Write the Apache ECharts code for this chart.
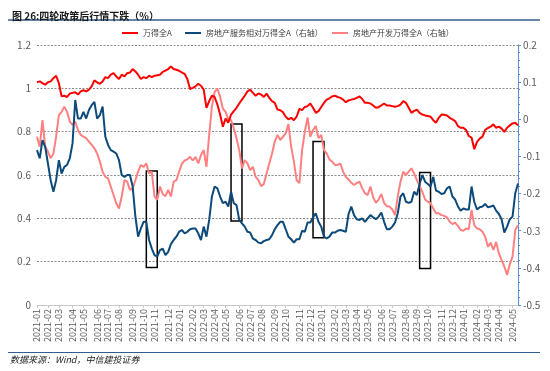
<!DOCTYPE html>
<html><head><meta charset="utf-8">
<script src="https://cdn.jsdelivr.net/npm/echarts@6/dist/echarts.min.js"></script>
<style>html,body{margin:0;padding:0;background:#fff}#c{width:550px;height:371px}</style>
</head><body><div id="c"></div>
<script>
// Weekly categories (Mondays) from 2021-01-04 to 2024-05-20
var categories = [];
(function(){var t0 = Date.UTC(2021,0,4);for (var i=0;i<177;i++){var d=new Date(t0+i*7*86400000);var m=d.getUTCMonth()+1,dd=d.getUTCDate();categories.push(d.getUTCFullYear()+'-'+(m<10?'0':'')+m+'-'+(dd<10?'0':'')+dd);}})();

var seriesNames = ['万得全A','房地产服务相对万得全A（右轴）','房地产开发万得全A（右轴）'];

var windA = [1.028,1.032,1.024,1.017,1.028,1.032,1.047,1.058,1.024,0.963,
0.966,0.960,0.976,0.979,0.982,0.971,0.986,0.991,0.986,0.994,
1.009,1.037,1.028,1.021,1.032,1.052,1.047,1.063,1.070,1.055,
1.043,1.063,1.055,1.070,1.073,1.089,1.078,1.063,1.043,1.052,
1.047,1.058,1.052,1.058,1.060,1.063,1.076,1.082,1.089,1.101,
1.089,1.086,1.081,1.073,1.067,1.043,0.997,1.002,1.009,1.021,
1.012,0.994,0.910,0.941,0.966,0.960,0.925,0.879,0.823,0.860,
0.841,0.879,0.895,0.910,0.930,0.948,0.966,0.986,0.994,0.979,
0.966,0.976,0.971,0.960,0.976,0.956,0.941,0.933,0.902,0.899,
0.890,0.869,0.857,0.864,0.853,0.869,0.905,0.899,0.914,0.918,
0.930,0.910,0.887,0.895,0.914,0.933,0.948,0.954,0.963,0.966,
0.960,0.956,0.948,0.936,0.944,0.948,0.951,0.956,0.963,0.951,
0.933,0.933,0.930,0.921,0.910,0.913,0.921,0.930,0.921,0.921,
0.918,0.915,0.918,0.925,0.941,0.933,0.910,0.887,0.896,0.902,
0.887,0.879,0.875,0.872,0.869,0.853,0.841,0.864,0.879,0.878,
0.875,0.864,0.857,0.849,0.826,0.818,0.818,0.808,0.780,0.773,
0.719,0.753,0.768,0.777,0.808,0.817,0.823,0.834,0.818,0.823,
0.814,0.799,0.818,0.829,0.838,0.841,0.829];

var reServiceRel = [-0.083,-0.105,-0.056,-0.074,-0.119,-0.164,-0.195,-0.164,-0.110,-0.146,
-0.128,-0.123,-0.105,-0.065,0.052,0.002,0.002,0.020,0.002,0.025,
0.038,0.047,0.002,0.011,0.034,-0.047,-0.069,-0.083,-0.087,-0.092,
-0.110,-0.150,-0.155,-0.150,-0.150,-0.181,-0.262,-0.316,-0.294,-0.276,
-0.276,-0.325,-0.348,-0.366,-0.370,-0.352,-0.348,-0.366,-0.357,-0.336,
-0.325,-0.316,-0.303,-0.298,-0.307,-0.303,-0.296,-0.294,-0.294,-0.307,
-0.325,-0.289,-0.316,-0.271,-0.208,-0.181,-0.186,-0.208,-0.226,-0.222,
-0.235,-0.195,-0.226,-0.231,-0.271,-0.280,-0.289,-0.303,-0.305,-0.321,
-0.325,-0.332,-0.334,-0.328,-0.325,-0.323,-0.312,-0.296,-0.285,-0.276,
-0.276,-0.296,-0.316,-0.323,-0.332,-0.323,-0.323,-0.300,-0.303,-0.278,
-0.278,-0.264,-0.253,-0.276,-0.289,-0.316,-0.321,-0.316,-0.305,-0.305,
-0.300,-0.298,-0.300,-0.303,-0.255,-0.235,-0.258,-0.269,-0.271,-0.267,
-0.276,-0.267,-0.258,-0.264,-0.269,-0.262,-0.251,-0.276,-0.296,-0.296,
-0.289,-0.278,-0.253,-0.208,-0.199,-0.222,-0.225,-0.222,-0.195,-0.204,
-0.174,-0.150,-0.168,-0.174,-0.181,-0.155,-0.192,-0.195,-0.201,-0.199,
-0.186,-0.181,-0.208,-0.216,-0.234,-0.246,-0.240,-0.243,-0.243,-0.181,
-0.222,-0.243,-0.237,-0.235,-0.228,-0.237,-0.235,-0.232,-0.246,-0.255,
-0.269,-0.305,-0.289,-0.269,-0.262,-0.199,-0.173];

var reDevRel = [-0.047,-0.074,-0.002,-0.074,-0.087,-0.105,-0.092,-0.047,0.011,0.020,
0.034,0.020,-0.006,-0.015,-0.006,-0.029,-0.042,-0.047,-0.051,-0.060,
-0.069,-0.078,-0.092,-0.114,-0.141,-0.155,-0.159,-0.181,-0.204,-0.226,
-0.240,-0.208,-0.164,-0.168,-0.190,-0.186,-0.164,-0.141,-0.123,-0.128,
-0.119,-0.146,-0.141,-0.208,-0.217,-0.181,-0.201,-0.207,-0.190,-0.208,
-0.168,-0.164,-0.141,-0.120,-0.111,-0.108,-0.101,-0.111,-0.101,-0.119,
-0.096,-0.083,-0.128,-0.042,0.034,0.074,0.083,0.061,0.029,0.020,
0.000,-0.002,-0.024,-0.051,-0.083,-0.132,-0.110,-0.119,-0.137,-0.128,
-0.155,-0.164,-0.180,-0.174,-0.146,-0.119,-0.092,-0.060,-0.042,-0.056,
-0.047,-0.038,-0.013,-0.074,-0.114,-0.164,-0.172,-0.083,-0.033,0.005,
-0.047,-0.029,-0.018,-0.051,-0.042,-0.083,-0.092,-0.108,-0.114,-0.123,
-0.123,-0.119,-0.141,-0.155,-0.162,-0.171,-0.177,-0.172,-0.168,-0.186,
-0.199,-0.204,-0.181,-0.210,-0.225,-0.216,-0.201,-0.225,-0.234,-0.235,
-0.243,-0.258,-0.208,-0.168,-0.141,-0.150,-0.141,-0.132,-0.146,-0.164,
-0.180,-0.195,-0.216,-0.222,-0.226,-0.240,-0.253,-0.253,-0.258,-0.260,
-0.264,-0.276,-0.282,-0.278,-0.287,-0.298,-0.300,-0.294,-0.296,-0.244,
-0.285,-0.294,-0.296,-0.303,-0.316,-0.343,-0.332,-0.352,-0.330,-0.361,
-0.379,-0.397,-0.419,-0.390,-0.370,-0.298,-0.285];

// Highlight boxes: [startIndex, endIndex, top (right axis), bottom (right axis)]
var boxes = [[40,44,-0.139,-0.399],[71,75,-0.013,-0.274],[101,105,-0.060,-0.319],[140,144,-0.143,-0.402]];

function isMonthStart(idx){ return idx===0 || categories[idx].slice(0,7)!==categories[idx-1].slice(0,7); }

var chart = echarts.init(document.getElementById('c'), null, {renderer:'canvas'});
var font = '"Noto Sans CJK SC", "Noto Sans", sans-serif';
var legendBase = {top: 24, icon: 'rect', itemWidth: 16, itemHeight: 2, textStyle: {fontSize: 8, color: '#404040', fontFamily: font}, selectedMode: false};
chart.setOption({
  animation: false,
  backgroundColor: '#fff',
  textStyle: {fontFamily: font},
  title: {text: '图 26:四轮政策后行情下跌（%）', left: 7, top: 6, textStyle: {fontSize: 10, fontWeight: 'bold', color: '#1a1a1a', fontFamily: font}},
  legend: [
    Object.assign({}, legendBase, {left: 117, data: [seriesNames[0]]}),
    Object.assign({}, legendBase, {left: 180, data: [seriesNames[1]]}),
    Object.assign({}, legendBase, {left: 327, data: [seriesNames[2]]})
  ],
  grid: {left: 37, right: 32, top: 45, bottom: 66, containLabel: false},
  xAxis: {
    type: 'category', data: categories, boundaryGap: false,
    axisLine: {lineStyle: {color: '#c8c8c8'}},
    axisTick: {show: true, interval: function(i){return isMonthStart(i);}, length: 3, lineStyle: {color: '#c8c8c8'}},
    axisLabel: {interval: function(i){return isMonthStart(i);}, rotate: 90, fontSize: 9, color: '#595959', margin: 4,
      formatter: function(v){return v.slice(0,7);}},
    splitLine: {show: false}
  },
  yAxis: [
    {type: 'value', min: 0, max: 1.2, interval: 0.2, position: 'left',
     axisLine: {show: false}, axisTick: {show: false},
     axisLabel: {fontSize: 10, color: '#595959', margin: 6},
     splitLine: {show: true, lineStyle: {color: '#8c8c8c', type: [2, 1.5], width: 1}}},
    {type: 'value', min: -0.5, max: 0.2, interval: 0.1, position: 'right',
     axisLine: {show: true, lineStyle: {color: '#5b8fc7', width: 1}},
     axisTick: {show: true, length: 3, lineStyle: {color: '#5b8fc7'}},
     minorTick: {show: true, splitNumber: 5, length: 2, lineStyle: {color: '#5b8fc7'}},
     axisLabel: {fontSize: 10, color: '#595959', margin: 5, formatter: function(v){return String(Math.round(v*10)/10);}},
     splitLine: {show: false}}
  ],
  series: [
    {name: seriesNames[0], type: 'line', yAxisIndex: 0, data: windA, symbol: 'none', lineStyle: {color: '#ff0000', width: 2}, itemStyle: {color: '#ff0000'}, z: 4},
    {name: seriesNames[1], type: 'line', yAxisIndex: 1, data: reServiceRel, symbol: 'none', lineStyle: {color: '#0d4a7a', width: 2}, itemStyle: {color: '#0d4a7a'}, z: 3,
     markArea: {silent: true, label: {show: false},
       itemStyle: {color: 'rgba(0,0,0,0)', borderColor: '#000', borderWidth: 1.5},
       data: boxes.map(function(b){return [{coord: [b[0], b[2]]}, {coord: [b[1], b[3]]}];})}},
    {name: seriesNames[2], type: 'line', yAxisIndex: 1, data: reDevRel, symbol: 'none', lineStyle: {color: '#ff8080', width: 2}, itemStyle: {color: '#ff8080'}, z: 2}
  ],
  graphic: [
    {type: 'line', shape: {x1: 8, y1: 20, x2: 540, y2: 20}, style: {stroke: '#2f5f8f', lineWidth: 1.5}, silent: true},
    {type: 'line', shape: {x1: 8, y1: 352.5, x2: 540, y2: 352.5}, style: {stroke: '#2f5f8f', lineWidth: 1.2}, silent: true},
    {type: 'text', left: 10, top: 355, style: {text: '数据来源：Wind，中信建投证券', font: 'italic 9px "Noto Sans CJK SC", serif', fill: '#262626'}, silent: true}
  ]
});
</script></body></html>
